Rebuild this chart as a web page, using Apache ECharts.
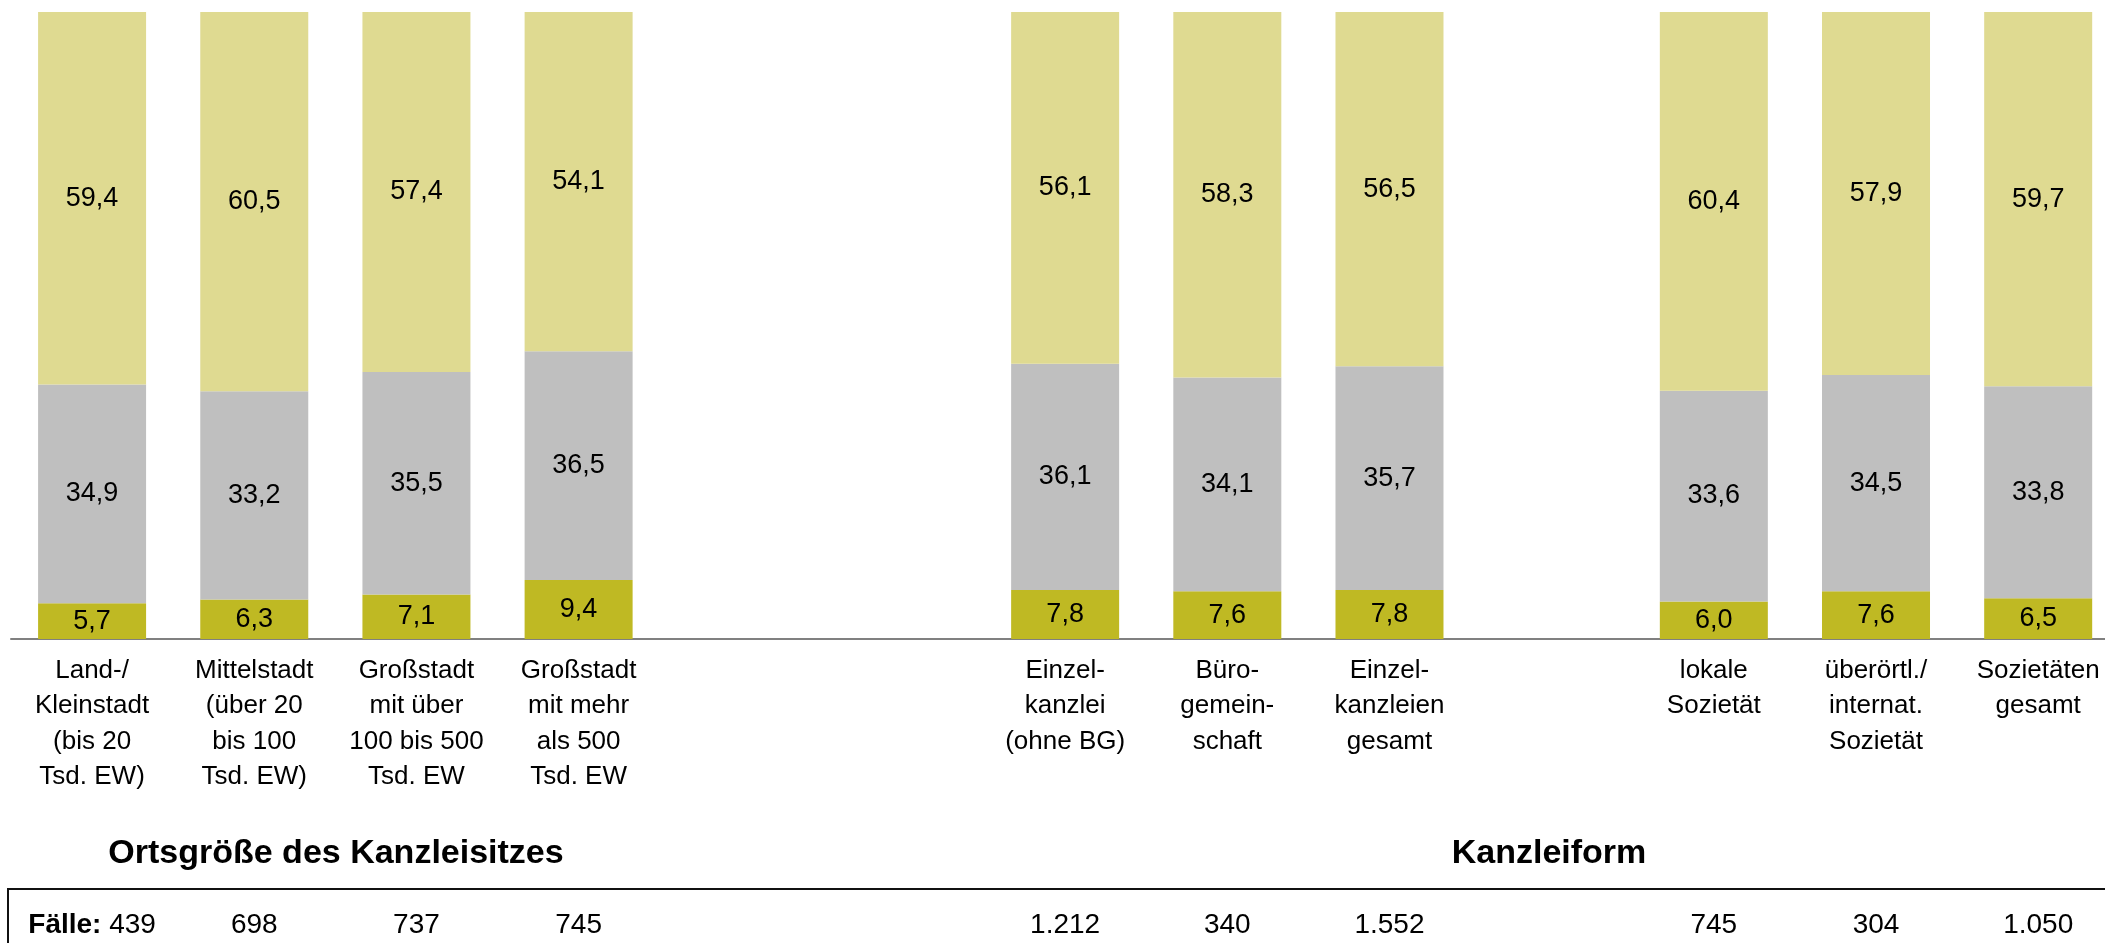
<!DOCTYPE html>
<html>
<head>
<meta charset="utf-8">
<script src="https://cdn.jsdelivr.net/npm/echarts@6/dist/echarts.min.js"></script>
<style>
html,body{margin:0;padding:0;background:#fff;}
#chart{width:2105px;height:943px;}
</style>
</head>
<body>
<div id="chart"></div>
<script>
const categories = [
  'Land-/\nKleinstadt\n(bis 20\nTsd. EW)',
  'Mittelstadt\n(über 20\nbis 100\nTsd. EW)',
  'Großstadt\nmit über\n100 bis 500\nTsd. EW',
  'Großstadt\nmit mehr\nals 500\nTsd. EW',
  '', '',
  'Einzel-\nkanzlei\n(ohne BG)',
  'Büro-\ngemein-\nschaft',
  'Einzel-\nkanzleien\ngesamt',
  '',
  'lokale\nSozietät',
  'überörtl./\ninternat.\nSozietät',
  'Sozietäten\ngesamt'
];
const seriesBottom = [5.7, 6.3, 7.1, 9.4, null, null, 7.8, 7.6, 7.8, null, 6.0, 7.6, 6.5];
const seriesMiddle = [34.9, 33.2, 35.5, 36.5, null, null, 36.1, 34.1, 35.7, null, 33.6, 34.5, 33.8];
const seriesTop = [59.4, 60.5, 57.4, 54.1, null, null, 56.1, 58.3, 56.5, null, 60.4, 57.9, 59.7];
const faelle = [439, 698, 737, 745, null, null, 1212, 340, 1552, null, 745, 304, 1050];
const groupTitles = ['Ortsgröße des Kanzleisitzes', 'Kanzleiform'];
const faelleLabel = 'Fälle:';

const FONT = '"Liberation Sans", Arial, sans-serif';
function fmtVal(v) { return v.toFixed(1).replace('.', ','); }
function fmtInt(v) {
  return String(v).replace(/\B(?=(\d{3})+(?!\d))/g, '.');
}
const idx = categories.map((c, i) => i);
// value first, slot index second (so the value dimension is the stacked one)
function toData(arr) { return arr.map((v, i) => [v == null ? '-' : v, i]); }

const X_MIN = -0.5, X_MAX = 12.412;

const labelCfg = {
  show: true, position: 'inside', color: '#000', fontSize: 27, fontFamily: FONT,
  formatter: p => fmtVal(p.value[0])
};
function barSeries(arr, color) {
  return {
    type: 'bar', stack: 's', barWidth: 108, data: toData(arr),
    encode: { x: 1, y: 0 },
    itemStyle: { color: color }, label: labelCfg
  };
}

const chart = echarts.init(document.getElementById('chart'), null, {renderer: 'canvas'});
chart.setOption({
  animation: false,
  backgroundColor: '#fff',
  grid: { left: 11, right: 0, top: 12, height: 627 },
  xAxis: [{
    type: 'value', min: X_MIN, max: X_MAX, gridIndex: 0, position: 'bottom',
    splitLine: { show: false },
    axisLine: { show: true, onZero: false, lineStyle: { color: '#808080', width: 2 } },
    axisTick: { show: false },
    axisLabel: {
      customValues: idx, margin: 14, color: '#000', fontSize: 26, fontFamily: FONT, lineHeight: 35.5,
      showMinLabel: true, showMaxLabel: true, hideOverlap: false,
      formatter: v => categories[Math.round(v)] || ''
    }
  }, {
    type: 'value', min: X_MIN, max: X_MAX, gridIndex: 0, position: 'bottom',
    splitLine: { show: false },
    axisLine: { show: false, onZero: false }, axisTick: { show: false },
    axisLabel: {
      customValues: idx, margin: 286, verticalAlign: 'middle', color: '#000', fontSize: 28, fontFamily: FONT,
      showMinLabel: true, showMaxLabel: true, hideOverlap: false,
      formatter: v => {
        const i = Math.round(v);
        const f = faelle[i];
        if (f == null) return '';
        return i === 0 ? '{b|' + faelleLabel + '} ' + fmtInt(f) : fmtInt(f);
      },
      rich: { b: { fontWeight: 'bold', fontSize: 28, fontFamily: FONT, color: '#000' } }
    }
  }],
  yAxis: { type: 'value', min: 0, max: 100, show: false, splitLine: { show: false } },
  series: [
    barSeries(seriesBottom, '#BFB923'),
    barSeries(seriesMiddle, '#BFBFBF'),
    barSeries(seriesTop, '#DFDA91')
  ],
  graphic: [
    { type: 'text', x: 336, y: 854, style: { text: groupTitles[0], fill: '#000', font: 'bold 34px ' + FONT, textAlign: 'center', textVerticalAlign: 'middle' } },
    { type: 'text', x: 1549, y: 854, style: { text: groupTitles[1], fill: '#000', font: 'bold 34px ' + FONT, textAlign: 'center', textVerticalAlign: 'middle' } },
    { type: 'rect', shape: { x: 8, y: 889, width: 2200, height: 200 }, style: { fill: 'none', stroke: '#111', lineWidth: 2 } }
  ]
});
</script>
</body>
</html>
